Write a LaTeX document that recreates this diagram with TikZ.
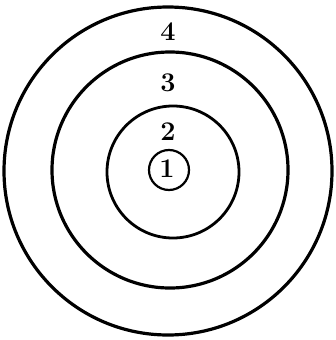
\documentclass[tikz,border=0pt]{standalone}
\usepackage{fontspec}
\usepackage{tikz}
\tikzset{
  ring/.style={circle, draw=black, line width=3.2pt, inner sep=0pt},
  num/.style={font=\fontsize{27}{31}\selectfont\bfseries, inner sep=0pt},
}
\begin{document}
\begin{tikzpicture}[x=1pt, y=-1pt]
  \useasboundingbox (0,0) rectangle (335,340);

  \node[ring, minimum size=328pt] (ring4) at (168,171) {};
  \node[ring, minimum size=236pt] (ring3) at (170,170) {};
  \node[ring, minimum size=132pt, line width=2.8pt] (ring2) at (173,172) {};
  \node[ring, minimum size=40pt, line width=2.2pt] (ring1) at (169,170) {};

  \node[num] (lab4) at (168,32) {4};
  \node[num] (lab3) at (168,83) {3};
  \node[num] (lab2) at (168,132) {2};
  \node[num] (lab1) at (167,169) {1};
\end{tikzpicture}
\end{document}
